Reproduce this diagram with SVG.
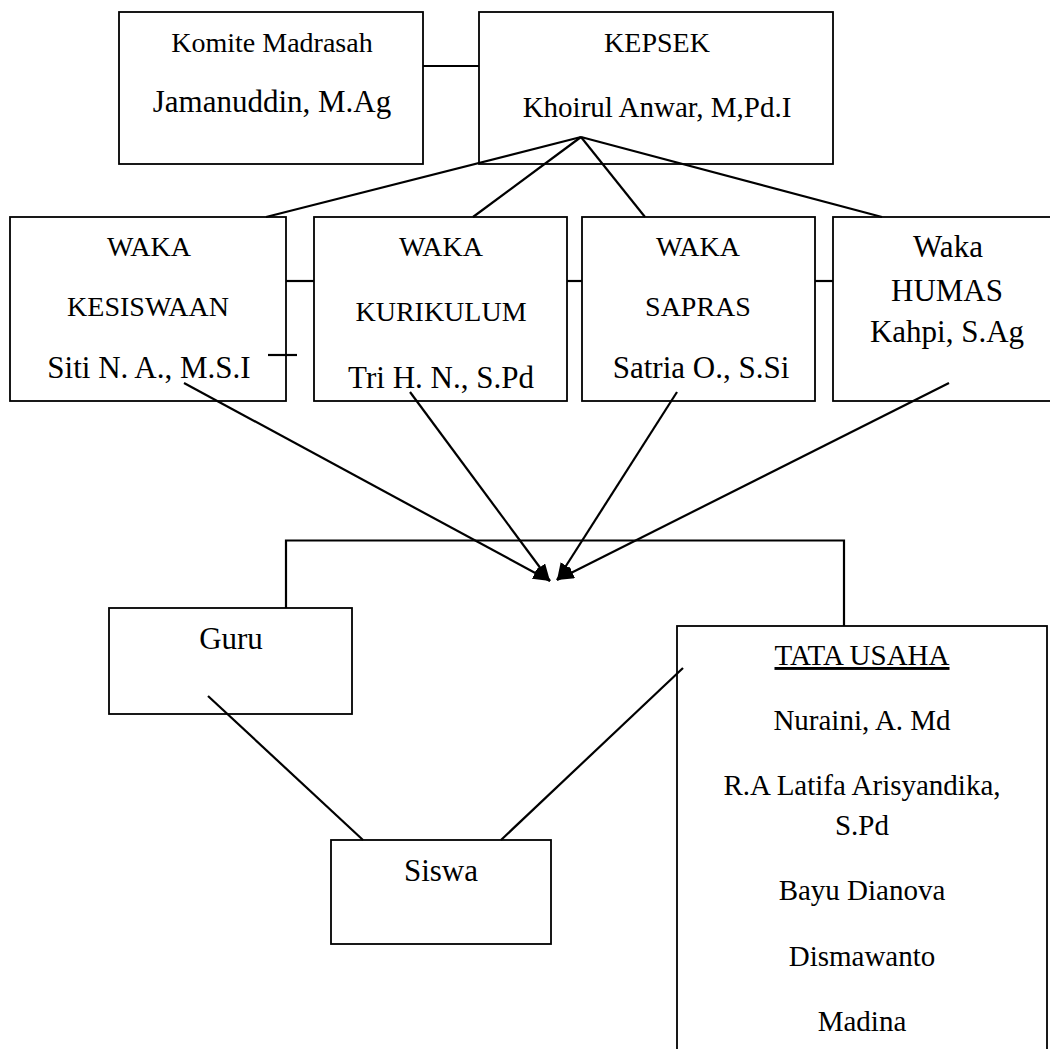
<svg xmlns="http://www.w3.org/2000/svg" width="1050" height="1049" viewBox="0 0 1050 1049">
<style>
rect.box{fill:#fff;stroke:#000;stroke-width:1.8}
.c line,.c path{stroke:#000;stroke-width:2.2;fill:none}
text{font-family:"Liberation Serif","Times New Roman",serif;fill:#000;text-anchor:middle}
.s{font-size:28px}
.k{font-size:29px}
.m{font-size:31px}
.t{font-size:29px}
</style>
<defs>
<marker id="a" viewBox="0 0 17 13" refX="17" refY="6.5" markerWidth="17" markerHeight="13" markerUnits="userSpaceOnUse" orient="auto">
<path d="M0,0 L17,6.5 L0,13 z" fill="#000"/>
</marker>
</defs>
<rect width="1050" height="1049" fill="#fff"/>
<g id="komite"><rect class="box" x="119" y="12" width="304" height="152"/>
<text class="s" x="272" y="52">Komite Madrasah</text>
<text class="m" x="272" y="112">Jamanuddin, M.Ag</text></g>
<g id="kepsek"><rect class="box" x="479" y="12" width="354" height="152"/>
<text class="s" x="657" y="52">KEPSEK</text>
<text class="k" x="657" y="117">Khoirul Anwar, M,Pd.I</text></g>
<g id="kesiswaan"><rect class="box" x="10" y="217" width="276" height="184"/>
<text class="s" x="149" y="256">WAKA</text>
<text class="s" x="148" y="316">KESISWAAN</text>
<text class="m" x="149" y="378">Siti N. A., M.S.I</text></g>
<g id="kurikulum"><rect class="box" x="314" y="217" width="253" height="184"/>
<text class="s" x="441" y="256">WAKA</text>
<text class="s" x="441" y="321">KURIKULUM</text>
<text class="m" x="441" y="388">Tri H. N., S.Pd</text></g>
<g id="sapras"><rect class="box" x="582" y="217" width="233" height="184"/>
<text class="s" x="698" y="256">WAKA</text>
<text class="s" x="698" y="316">SAPRAS</text>
<text class="m" x="701" y="378">Satria O., S.Si</text></g>
<g id="humas"><rect class="box" x="833" y="217" width="230" height="184"/>
<text class="m" x="948" y="257">Waka</text>
<text class="m" x="947" y="301">HUMAS</text>
<text class="m" x="947" y="342">Kahpi, S.Ag</text></g>
<g id="guru"><rect class="box" x="109" y="608" width="243" height="106"/>
<text class="m" x="231" y="649">Guru</text></g>
<g id="siswa"><rect class="box" x="331" y="840" width="220" height="104"/>
<text class="m" x="441" y="881">Siswa</text></g>
<g id="tata-usaha"><rect class="box" x="677" y="626" width="370" height="440"/>
<text class="t" x="862" y="665" text-decoration="underline">TATA USAHA</text>
<text class="t" x="862" y="730">Nuraini, A. Md</text>
<text class="t" x="862" y="795">R.A Latifa Arisyandika,</text>
<text class="t" x="862" y="835">S.Pd</text>
<text class="t" x="862" y="900">Bayu Dianova</text>
<text class="t" x="862" y="966">Dismawanto</text>
<text class="t" x="862" y="1031">Madina</text></g>
<g class="c" id="connectors">
<line x1="423" y1="66" x2="479" y2="66"/>
<line x1="581" y1="137" x2="266" y2="217"/>
<line x1="581" y1="137" x2="473" y2="217"/>
<line x1="581" y1="137" x2="645" y2="217"/>
<line x1="581" y1="137" x2="882" y2="217"/>
<line x1="286" y1="281" x2="314" y2="281"/>
<line x1="567" y1="281" x2="582" y2="281"/>
<line x1="815" y1="281" x2="833" y2="281"/>
<line x1="268" y1="355" x2="297" y2="355"/>
<path d="M286,608 V540.5 H844 V626"/>
<line x1="208" y1="696" x2="363" y2="840"/>
<line x1="683" y1="668" x2="501" y2="840"/>
<line x1="184" y1="383" x2="550" y2="581" marker-end="url(#a)"/>
<line x1="410" y1="392" x2="550" y2="581" marker-end="url(#a)"/>
<line x1="677" y1="392" x2="557" y2="580" marker-end="url(#a)"/>
<line x1="949" y1="383" x2="557" y2="580" marker-end="url(#a)"/>
</g>
</svg>
